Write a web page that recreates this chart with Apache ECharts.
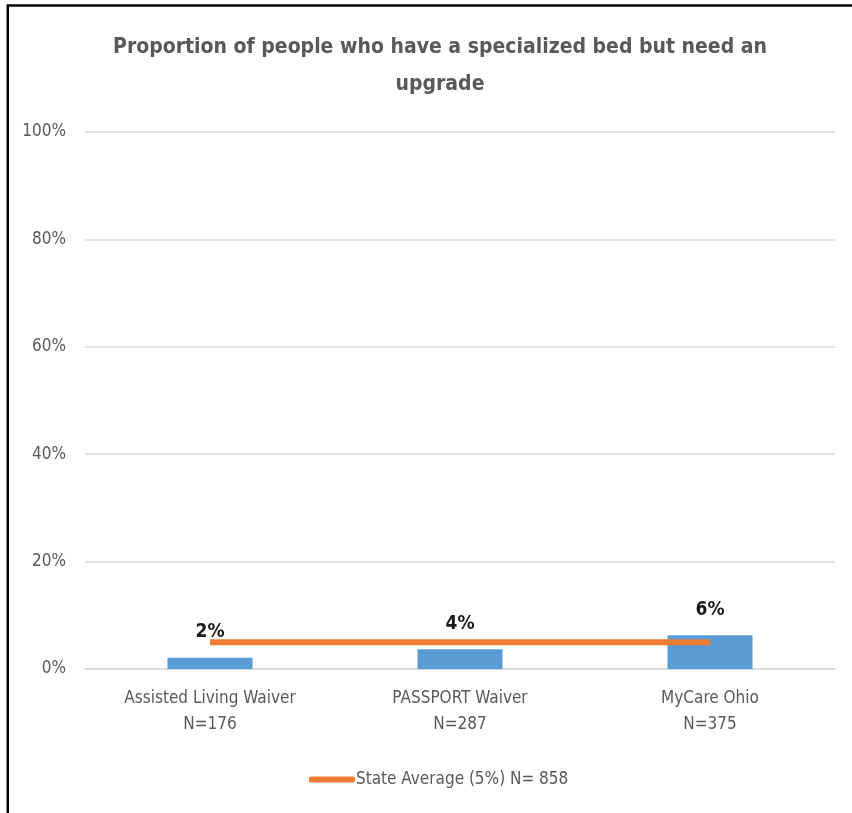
<!DOCTYPE html>
<html>
<head>
<meta charset="utf-8">
<style>
  html, body { margin: 0; padding: 0; background: #fff; }
  #chart { width: 852px; height: 813px; }
</style>
<script src="https://cdn.jsdelivr.net/npm/echarts@6/dist/echarts.min.js"></script>
</head>
<body>
<div id="chart"></div>
<script>
// Programs and sample sizes
const categories = ['Assisted Living Waiver', 'PASSPORT Waiver', 'MyCare Ohio'];
const sampleSizes = [176, 287, 375];
// Share of people with a specialized bed who need an upgrade (%)
const upgradeShare = [2.1, 3.7, 6.3];
// Statewide average (%) and its sample size
const stateAverage = 5;
const stateSampleSize = 858;
const yTicks = { min: 0, max: 100, interval: 20 };

const fontFamily = '"Liberation Sans Narrow", "DejaVu Sans Condensed", "Open Sans", sans-serif';
const axisLabels = categories.map((c, i) => c + '\nN=' + sampleSizes[i]);
const avgName = 'State Average (' + stateAverage + '%) N= ' + stateSampleSize;

const chart = echarts.init(document.getElementById('chart'), null, { renderer: 'canvas' });
chart.setOption({
  backgroundColor: '#ffffff',
  animation: false,
  title: {
    text: 'Proportion of people who have a specialized bed but need an\nupgrade',
    left: 435,
    textAlign: 'center',
    top: 24,
    textStyle: {
      fontFamily: fontFamily,
      fontSize: 21,
      fontWeight: 'bold',
      color: '#595959',
      lineHeight: 37
    }
  },
  legend: {
    data: [avgName],
    left: 304,
    top: 766,
    icon: 'roundRect',
    itemWidth: 46,
    itemHeight: 6,
    itemGap: 0,
    textStyle: {
      fontFamily: fontFamily,
      fontSize: 17,
      color: '#595959',
      padding: [0, 0, 0, -4]
    }
  },
  grid: { left: 85, right: 17, top: 132, bottom: 144 },
  xAxis: {
    type: 'category',
    data: axisLabels,
    axisTick: { show: false },
    axisLine: { lineStyle: { color: '#d9d9d9', width: 1.5 } },
    axisLabel: {
      fontFamily: fontFamily,
      fontSize: 17,
      color: '#595959',
      lineHeight: 26,
      margin: 17
    }
  },
  yAxis: {
    type: 'value',
    min: yTicks.min,
    max: yTicks.max,
    interval: yTicks.interval,
    axisLabel: {
      formatter: '{value}%',
      fontFamily: fontFamily,
      fontSize: 17,
      color: '#595959',
      margin: 19
    },
    splitLine: { lineStyle: { color: '#d9d9d9', width: 1.5 } },
    axisLine: { show: false },
    axisTick: { show: false }
  },
  series: [
    {
      name: 'Share needing upgrade',
      type: 'bar',
      data: upgradeShare,
      barWidth: 85,
      itemStyle: { color: '#5b9bd5' },
      label: {
        show: true,
        position: 'top',
        distance: 14,
        formatter: p => Math.round(p.value) + '%',
        fontFamily: fontFamily,
        fontSize: 19,
        fontWeight: 'bold',
        color: '#1a1a1a',
        backgroundColor: '#ffffff',
        padding: [1, 3, 2, 3]
      },
      z: 2
    },
    {
      name: avgName,
      type: 'line',
      data: categories.map(() => stateAverage),
      symbol: 'none',
      lineStyle: { color: '#ed7d31', width: 6 },
      itemStyle: { color: '#ed7d31' },
      z: 3
    }
  ],
  graphic: [
    { type: 'line', shape: { x1: 7, y1: 5.5, x2: 852, y2: 5.5 }, style: { stroke: '#000', lineWidth: 2.5 } },
    { type: 'line', shape: { x1: 7.8, y1: 4.5, x2: 7.8, y2: 813 }, style: { stroke: '#000', lineWidth: 2.5 } }
  ]
});
</script>
</body>
</html>
